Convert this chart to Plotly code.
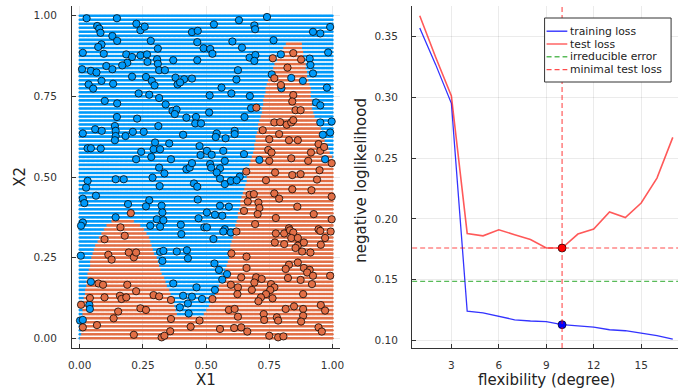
import numpy as np
import plotly.graph_objects as go

# ---------------- left panel data ----------------
# decision boundary (orange below, blue above)
boundary_x = [0.000, 0.004, 0.012, 0.022, 0.031, 0.044, 0.061, 0.077, 0.100, 0.120, 0.140, 0.200,
              0.225, 0.246, 0.272, 0.285, 0.305, 0.330, 0.357, 0.376, 0.390, 0.480, 0.503, 0.509,
              0.535, 0.568, 0.590, 0.600, 0.613, 0.626, 0.640, 0.659, 0.678, 0.689, 0.700, 0.717,
              0.723, 0.737, 0.754, 0.785, 0.824, 0.874, 0.886, 0.898, 0.913, 0.918, 0.930, 0.960,
              0.984, 1.000]
boundary_y = [0.000, 0.000, 0.086, 0.137, 0.189, 0.240, 0.282, 0.313, 0.344, 0.360, 0.366, 0.366,
              0.358, 0.344, 0.313, 0.282, 0.240, 0.189, 0.137, 0.086, 0.065, 0.065, 0.086, 0.096,
              0.137, 0.189, 0.240, 0.292, 0.344, 0.375, 0.427, 0.478, 0.550, 0.581, 0.633, 0.684,
              0.715, 0.767, 0.818, 0.870, 0.922, 0.922, 0.870, 0.818, 0.767, 0.715, 0.684, 0.633,
              0.581, 0.560]

grid_x_vals = np.round(np.arange(0, 1.0001, 0.005), 4)
grid_y_vals = np.round(np.arange(0, 1.0001, 0.0125), 4)

blue_x = [0.027, 0.147, 0.069, 0.077, 0.082, 0.224, 0.240, 0.257, 0.129, 0.148, 0.444, 0.467, 0.281,
          0.465, 0.490, 0.086, 0.073, 0.012, 0.095, 0.309, 0.184, 0.207, 0.240, 0.266, 0.306, 0.370,
          0.465, 0.268, 0.309, 0.188, 0.168, 0.105, 0.129, 0.009, 0.044, 0.066, 0.314, 0.337, 0.207,
          0.262, 0.285, 0.379, 0.413, 0.444, 0.086, 0.132, 0.035, 0.053, 0.296, 0.387, 0.397, 0.233,
          0.275, 0.314, 0.099, 0.148, 0.340, 0.367, 0.383, 0.376, 0.147, 0.227, 0.422, 0.460,
          0.531, 0.630, 0.691, 0.694, 0.741, 0.923, 0.952, 0.991, 0.604, 0.767, 0.642, 0.516, 0.525,
          0.672, 0.695, 0.691, 0.796, 0.910, 0.913, 0.983, 0.626, 0.923, 0.760, 0.837, 0.883, 0.620,
          0.798, 0.561, 0.600, 0.978, 0.514, 0.673, 0.935, 0.952, 0.678, 0.512, 0.652,
          0.012, 0.061, 0.087, 0.139, 0.142, 0.142, 0.139, 0.181, 0.210, 0.253, 0.311, 0.409, 0.457,
          0.480, 0.031, 0.044, 0.083, 0.298, 0.292, 0.318, 0.354, 0.243, 0.223, 0.283, 0.361, 0.474,
          0.478, 0.314, 0.335, 0.422, 0.435, 0.444, 0.142, 0.174, 0.288, 0.031, 0.025, 0.316, 0.452,
          0.465, 0.064, 0.012, 0.018, 0.275, 0.467, 0.191, 0.262, 0.324, 0.327, 0.142, 0.305, 0.331,
          0.470, 0.012, 0.005, 0.279, 0.318, 0.400, 0.493,
          0.952, 0.997, 0.542, 0.538, 0.577, 0.613, 0.613, 0.962, 0.991, 0.503, 0.522, 0.568, 0.650,
          0.711, 0.971, 0.516, 0.520, 0.574, 0.555, 0.542, 0.555, 0.574, 0.598, 0.633, 0.621, 0.555,
          0.590, 0.503, 0.535, 0.564, 0.503, 0.574,
          0.402, 0.004, 0.318, 0.331, 0.327, 0.384, 0.424, 0.428, 0.044, 0.370, 0.462, 0.409, 0.444,
          0.484, 0.428, 0.396, 0.038, 0.040, 0.431, 0.001, 0.012,
          0.529, 0.568, 0.598, 0.533, 0.551, 0.583, 0.564, 0.535]
blue_y = [0.992, 0.992, 0.968, 0.960, 0.947, 0.975, 0.955, 0.966, 0.937, 0.922, 0.949, 0.953, 0.922,
          0.918, 0.899, 0.911, 0.903, 0.885, 0.882, 0.898, 0.880, 0.872, 0.877, 0.880, 0.865, 0.862,
          0.862, 0.857, 0.851, 0.854, 0.846, 0.844, 0.834, 0.834, 0.829, 0.824, 0.831, 0.831, 0.811,
          0.810, 0.798, 0.808, 0.803, 0.805, 0.798, 0.789, 0.787, 0.774, 0.784, 0.787, 0.793, 0.759,
          0.755, 0.745, 0.736, 0.728, 0.725, 0.705, 0.709, 0.695, 0.686, 0.681, 0.684, 0.686,
          0.973, 0.986, 0.970, 0.958, 0.996, 0.950, 0.945, 0.965, 0.920, 0.924, 0.901, 0.897, 0.882,
          0.870, 0.878, 0.860, 0.880, 0.867, 0.847, 0.886, 0.831, 0.821, 0.818, 0.807, 0.798, 0.802,
          0.775, 0.777, 0.759, 0.777, 0.753, 0.751, 0.731, 0.722, 0.713, 0.700, 0.686,
          0.635, 0.648, 0.643, 0.658, 0.643, 0.627, 0.614, 0.627, 0.640, 0.640, 0.658, 0.631, 0.666,
          0.666, 0.589, 0.589, 0.588, 0.607, 0.586, 0.586, 0.604, 0.578, 0.555, 0.562, 0.555, 0.596,
          0.568, 0.529, 0.511, 0.524, 0.529, 0.543, 0.493, 0.493, 0.498, 0.488, 0.467, 0.472, 0.480,
          0.470, 0.442, 0.433, 0.419, 0.428, 0.430, 0.416, 0.409, 0.411, 0.390, 0.375, 0.369, 0.366,
          0.372, 0.359, 0.349, 0.349, 0.346, 0.352, 0.344,
          0.669, 0.672, 0.635, 0.624, 0.620, 0.643, 0.633, 0.631, 0.638, 0.581, 0.569, 0.581, 0.571,
          0.553, 0.555, 0.540, 0.529, 0.550, 0.527, 0.514, 0.495, 0.478, 0.488, 0.501, 0.490, 0.411,
          0.408, 0.390, 0.383, 0.380, 0.344, 0.338,
          0.323, 0.256, 0.268, 0.271, 0.240, 0.269, 0.273, 0.248, 0.175, 0.170, 0.158, 0.132, 0.129,
          0.122, 0.108, 0.096, 0.104, 0.091, 0.077, 0.055, 0.057,
          0.308, 0.331, 0.328, 0.232, 0.212, 0.199, 0.182, 0.150]

orange_x = [0.764, 0.845, 0.876, 0.822, 0.770, 0.796, 0.845, 0.841, 0.699, 0.854, 0.874,
            0.202, 0.161,
            0.770, 0.793, 0.819, 0.837, 0.845, 0.724, 0.789, 0.750, 0.828, 0.863, 0.746, 0.759, 0.945,
            0.952, 0.967, 0.915, 0.750, 0.837, 0.904, 0.997, 0.659, 0.773, 0.841, 0.874, 0.949, 0.737,
            0.939, 0.672, 0.689, 0.770, 0.789, 0.841, 0.917, 0.665, 0.707, 0.711, 0.861, 0.997, 0.650,
            0.704, 0.776, 0.926, 0.997, 0.694, 0.828, 0.945,
            0.098, 0.178, 0.113, 0.126, 0.194, 0.214, 0.223, 0.074, 0.092, 0.188, 0.223, 0.040, 0.098,
            0.159, 0.165, 0.184, 0.292, 0.314, 0.361, 0.005, 0.240, 0.262, 0.152, 0.134, 0.361, 0.474,
            0.012, 0.068, 0.439, 0.358, 0.214, 0.324, 0.335,
            0.620, 0.776, 0.809, 0.832, 0.845, 0.837, 0.863, 0.772, 0.809, 0.863, 0.887, 0.952, 0.993,
            0.971, 0.954, 0.854, 0.880, 0.913, 0.600, 0.660, 0.660, 0.828, 0.863, 0.815, 0.887, 0.910,
            0.900, 0.923, 0.639, 0.698, 0.720, 0.691, 0.824, 0.874, 0.919, 0.991, 0.598, 0.626, 0.681,
            0.757, 0.770, 0.754, 0.737, 0.717, 0.707, 0.763, 0.624, 0.884, 0.525, 0.590, 0.613, 0.626,
            0.728, 0.730, 0.780, 0.785, 0.815, 0.848, 0.884, 0.884, 0.876, 0.954, 0.971, 0.555, 0.611,
            0.639, 0.663, 0.750, 0.785, 0.806, 0.945, 0.958]
orange_y = [0.868, 0.884, 0.864, 0.839, 0.806, 0.785, 0.754, 0.734, 0.715, 0.707, 0.707,
            0.388, 0.344,
            0.669, 0.670, 0.662, 0.669, 0.676, 0.645, 0.633, 0.617, 0.614, 0.614, 0.584, 0.576, 0.602,
            0.581, 0.593, 0.576, 0.550, 0.558, 0.550, 0.543, 0.517, 0.514, 0.506, 0.509, 0.521, 0.490,
            0.492, 0.445, 0.447, 0.449, 0.433, 0.462, 0.459, 0.424, 0.421, 0.404, 0.408, 0.439, 0.395,
            0.385, 0.373, 0.385, 0.369, 0.354, 0.341, 0.338,
            0.307, 0.318, 0.259, 0.244, 0.266, 0.251, 0.266, 0.170, 0.166, 0.166, 0.146, 0.125, 0.127,
            0.132, 0.122, 0.127, 0.134, 0.130, 0.119, 0.104, 0.093, 0.088, 0.083, 0.062, 0.060, 0.055,
            0.034, 0.041, 0.036, 0.022, 0.011, 0.003, 0.008,
            0.331, 0.325, 0.325, 0.335, 0.328, 0.311, 0.311, 0.297, 0.292, 0.287, 0.297, 0.333, 0.331,
            0.311, 0.290, 0.280, 0.269, 0.266, 0.263, 0.253, 0.218, 0.228, 0.235, 0.215, 0.218, 0.212,
            0.204, 0.194, 0.189, 0.189, 0.184, 0.173, 0.187, 0.181, 0.168, 0.194, 0.166, 0.158, 0.150,
            0.168, 0.158, 0.150, 0.137, 0.127, 0.115, 0.124, 0.137, 0.137, 0.122, 0.088, 0.091, 0.067,
            0.075, 0.057, 0.065, 0.055, 0.091, 0.099, 0.091, 0.070, 0.052, 0.103, 0.086, 0.029, 0.032,
            0.034, 0.021, 0.008, 0.003, 0.006, 0.034, 0.021]

# ---------------- right panel data ----------------
degree = list(range(1, 18))
training_loss = [0.357, 0.327, 0.295, 0.124, 0.1227, 0.120, 0.117, 0.116, 0.1155, 0.113, 0.112,
                 0.111, 0.1088, 0.108, 0.106, 0.104, 0.101]
test_loss = [0.367, 0.333, 0.301, 0.188, 0.186, 0.191, 0.187, 0.183, 0.176, 0.176, 0.1875,
             0.1916, 0.2056, 0.2011, 0.213, 0.2335, 0.267]
irreducible_error = 0.1485
best_degree = 10
min_test_loss = 0.176
train_at_best = 0.113

BLUE = "#009AFA"
ORANGE = "#E26F46"
FONT = "DejaVu Sans"

gx, gy = np.meshgrid(grid_x_vals, grid_y_vals)
gx = gx.ravel(); gy = gy.ravel()
is_orange = gy < np.interp(gx, boundary_x, boundary_y)

fig = go.Figure()
fig.add_trace(go.Scatter(x=gx[~is_orange], y=gy[~is_orange], mode="markers",
                         marker=dict(size=2.6, color=BLUE, line=dict(width=0)),
                         xaxis="x", yaxis="y", showlegend=False, hoverinfo="skip"))
fig.add_trace(go.Scatter(x=gx[is_orange], y=gy[is_orange], mode="markers",
                         marker=dict(size=2.6, color=ORANGE, line=dict(width=0)),
                         xaxis="x", yaxis="y", showlegend=False, hoverinfo="skip"))
fig.add_trace(go.Scatter(x=blue_x, y=blue_y, mode="markers",
                         marker=dict(size=7.3, color=BLUE, line=dict(width=1, color="rgba(0,0,0,0.75)")),
                         xaxis="x", yaxis="y", showlegend=False))
fig.add_trace(go.Scatter(x=orange_x, y=orange_y, mode="markers",
                         marker=dict(size=7.3, color=ORANGE, line=dict(width=1, color="rgba(0,0,0,0.75)")),
                         xaxis="x", yaxis="y", showlegend=False))

# right panel
RED_L = "rgba(255,0,0,0.65)"
BLUE_L = "rgba(0,0,255,0.8)"
GREEN_D = "rgba(0,150,0,0.65)"
RED_D = "rgba(255,0,0,0.7)"
DASH = "5px,3px"
fig.add_trace(go.Scatter(x=degree, y=training_loss, mode="lines", line=dict(color=BLUE_L, width=1.3),
                         xaxis="x2", yaxis="y2", showlegend=False))
fig.add_trace(go.Scatter(x=degree, y=test_loss, mode="lines", line=dict(color=RED_L, width=1.6),
                         xaxis="x2", yaxis="y2", showlegend=False))
fig.add_shape(type="line", xref="x2 domain", yref="y2", x0=0, x1=1, y0=irreducible_error, y1=irreducible_error,
              line=dict(color=GREEN_D, width=1.3, dash=DASH))
fig.add_shape(type="line", xref="x2 domain", yref="y2", x0=0, x1=1, y0=min_test_loss, y1=min_test_loss,
              line=dict(color=RED_D, width=1.1, dash=DASH))
fig.add_shape(type="line", xref="x2", yref="y2 domain", x0=best_degree, x1=best_degree, y0=0, y1=1,
              line=dict(color=RED_D, width=1.1, dash=DASH))
fig.add_trace(go.Scatter(x=[best_degree], y=[min_test_loss], mode="markers",
                         marker=dict(size=8, color="red", line=dict(width=1, color="rgba(0,0,0,0.7)")),
                         xaxis="x2", yaxis="y2", showlegend=False))
fig.add_trace(go.Scatter(x=[best_degree], y=[train_at_best], mode="markers",
                         marker=dict(size=8, color="blue", line=dict(width=1, color="rgba(0,0,0,0.7)")),
                         xaxis="x2", yaxis="y2", showlegend=False))

W, H = 682, 389
def px(v): return v / W
def py(v): return 1 - v / H

axis_common = dict(showline=True, linecolor="#333333", linewidth=1.2, ticks="inside", ticklen=4,
                   tickcolor="#333333", showgrid=True, gridcolor="rgba(0,0,0,0.08)", gridwidth=0.8,
                   zeroline=False, tickfont=dict(family=FONT, size=10.5, color="#333333"))

fig.update_layout(
    width=W, height=H, margin=dict(l=0, r=0, t=0, b=0),
    paper_bgcolor="white", plot_bgcolor="white", showlegend=False,
    font=dict(family=FONT),
    xaxis=dict(domain=[px(69), px(340)], range=[-0.03, 1.03], tickvals=[0, 0.25, 0.5, 0.75, 1.0],
               ticktext=["0.00", "0.25", "0.50", "0.75", "1.00"], anchor="y", ticklabelstandoff=7, **axis_common),
    yaxis=dict(domain=[py(348), py(6)], range=[-0.03, 1.03], tickvals=[0, 0.25, 0.5, 0.75, 1.0],
               ticktext=["0.00", "0.25", "0.50", "0.75", "1.00"], anchor="x", ticklabelstandoff=12, **axis_common),
    xaxis2=dict(domain=[px(413), 1.0], range=[0.52, 17.33], tickvals=[3, 6, 9, 12, 15], anchor="y2",
                ticklabelstandoff=7, **axis_common),
    yaxis2=dict(domain=[py(348), py(6)], range=[0.0938, 0.375], tickvals=[0.10, 0.15, 0.20, 0.25, 0.30, 0.35],
                ticktext=["0.10", "0.15", "0.20", "0.25", "0.30", "0.35"], anchor="x2", ticklabelstandoff=11,
                **axis_common),
)

title_font = dict(family=FONT, size=15, color="#222222")
def title(text, x, y, angle=0):
    fig.add_annotation(text=text, x=px(x), y=py(y), xref="paper", yref="paper", showarrow=False,
                       xanchor="center", yanchor="middle", font=title_font, textangle=angle, borderpad=0)
title("X1", 204, 379.5)
title("X2", 16, 177, -90)
title("flexibility (degree)", 549, 379.5)
title("negative loglikelihood", 361, 180, -90)

# legend drawn by hand
fig.add_shape(type="rect", xref="paper", yref="paper", x0=px(547), x1=px(675), y0=py(82), y1=py(18),
              line=dict(color="#333333", width=1), fillcolor="white", layer="above")
legend_items = [("training loss", BLUE_L, "solid"), ("test loss", RED_L, "solid"),
                ("irreducible error", GREEN_D, DASH), ("minimal test loss", RED_D, DASH)]
for i, (label, col, dash) in enumerate(legend_items):
    yy = 31.2 + i * 12.8
    fig.add_shape(type="line", xref="paper", yref="paper", x0=px(549), x1=px(570), y0=py(yy), y1=py(yy),
                  line=dict(color=col, width=1.4, dash=dash), layer="above")
    fig.add_annotation(text=label, x=px(572), y=py(yy), xref="paper", yref="paper", showarrow=False,
                       xanchor="left", yanchor="middle", borderpad=0,
                       font=dict(family=FONT, size=10.8, color="#222222"))

fig.write_html("out.html")
